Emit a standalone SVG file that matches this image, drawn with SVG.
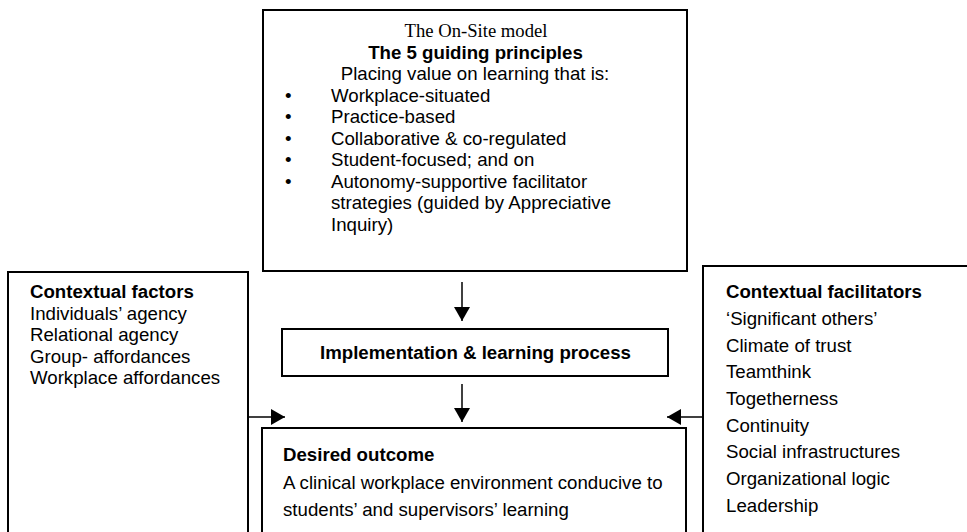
<svg xmlns="http://www.w3.org/2000/svg" width="967" height="532" viewBox="0 0 967 532">
<style>
.box{fill:#fff;stroke:#000;stroke-width:2}
.t{font-family:"Liberation Sans",Arial,sans-serif;font-size:18.67px;fill:#000}
.b{font-weight:bold}
.s{font-family:"Liberation Serif","Times New Roman",serif;font-size:18.67px;fill:#000}
.c{stroke:#000;stroke-width:1.5;fill:none}
</style>
<defs>
<marker id="ah" viewBox="0 0 14 16" refX="14" refY="8" markerWidth="14" markerHeight="16" markerUnits="userSpaceOnUse" orient="auto">
<path d="M0,0 L14,8 L0,16 Z" fill="#000"/>
</marker>
</defs>
<g id="principles">
<rect class="box" x="263" y="10" width="424" height="261"/>
<text class="s" x="476" y="37" text-anchor="middle">The On-Site model</text>
<text class="t b" x="475.5" y="58.5" text-anchor="middle">The 5 guiding principles</text>
<text class="t" x="475" y="80" text-anchor="middle">Placing value on learning that is:</text>
<text class="t" x="285" y="101.5">•</text><text class="t" x="331" y="101.5">Workplace-situated</text>
<text class="t" x="285" y="123">•</text><text class="t" x="331" y="123">Practice-based</text>
<text class="t" x="285" y="144.5">•</text><text class="t" x="331" y="144.5">Collaborative &amp; co-regulated</text>
<text class="t" x="285" y="166">•</text><text class="t" x="331" y="166">Student-focused; and on</text>
<text class="t" x="285" y="187.5">•</text><text class="t" x="331" y="187.5">Autonomy-supportive facilitator</text>
<text class="t" x="331" y="209">strategies (guided by Appreciative</text>
<text class="t" x="331" y="230.5">Inquiry)</text>
</g>
<g id="factors">
<rect class="box" x="8" y="272" width="240" height="280"/>
<text class="t b" x="30" y="298">Contextual factors</text>
<text class="t" x="30" y="319.5">Individuals’ agency</text>
<text class="t" x="30" y="341">Relational agency</text>
<text class="t" x="30" y="362.5">Group- affordances</text>
<text class="t" x="30" y="384">Workplace affordances</text>
</g>
<g id="facilitators">
<rect class="box" x="703" y="266" width="290" height="290"/>
<text class="t b" x="726" y="298">Contextual facilitators</text>
<text class="t" x="726" y="325">‘Significant others’</text>
<text class="t" x="726" y="351.5">Climate of trust</text>
<text class="t" x="726" y="378">Teamthink</text>
<text class="t" x="726" y="405">Togetherness</text>
<text class="t" x="726" y="431.5">Continuity</text>
<text class="t" x="726" y="458">Social infrastructures</text>
<text class="t" x="726" y="485">Organizational logic</text>
<text class="t" x="726" y="511.5">Leadership</text>
</g>
<g id="process">
<rect class="box" x="282" y="329" width="386" height="47"/>
<text class="t b" x="475.5" y="358.5" text-anchor="middle">Implementation &amp; learning process</text>
</g>
<g id="outcome">
<rect class="box" x="262" y="428" width="424" height="120"/>
<text class="t b" x="283" y="461">Desired outcome</text>
<text class="t" x="283" y="488.5">A clinical workplace environment conducive to</text>
<text class="t" x="283" y="515.5">students’ and supervisors’ learning</text>
</g>
<g id="connectors">
<line class="c" x1="462" y1="282" x2="462" y2="321" marker-end="url(#ah)"/>
<line class="c" x1="462" y1="384" x2="462" y2="422" marker-end="url(#ah)"/>
<line class="c" x1="248" y1="417" x2="285" y2="417" marker-end="url(#ah)"/>
<line class="c" x1="703" y1="417" x2="667" y2="417" marker-end="url(#ah)"/>
</g>
</svg>
